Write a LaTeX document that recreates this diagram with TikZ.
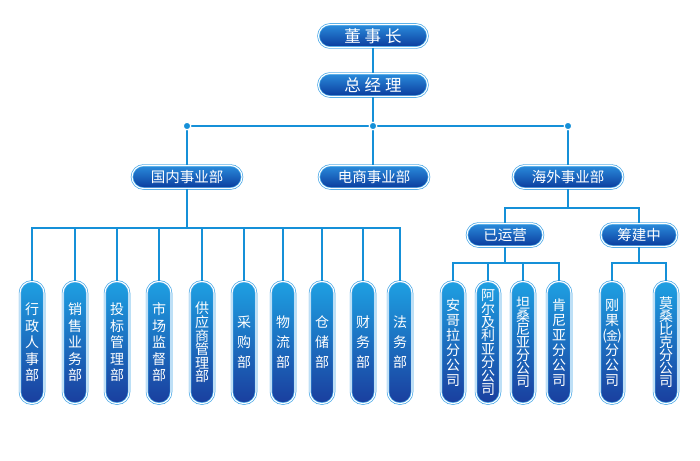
\documentclass[tikz,border=0pt]{standalone}
\usepackage{fontspec}
\newfontfamily\cjk{Noto Sans CJK SC}
\definecolor{linkblue}{HTML}{1590D8}
\definecolor{rimblue}{HTML}{45A6E6}
\definecolor{boxtop}{HTML}{2A8CDC}
\definecolor{boxbot}{HTML}{0A3A9C}
\definecolor{pilltop}{HTML}{1EA0E2}
\definecolor{pillbot}{HTML}{1A3E9E}
\begin{document}
\begin{tikzpicture}[x=1pt,y=-1pt,
    link/.style={draw=linkblue,line width=1.5pt},
    rim/.style={draw=rimblue,double=white,double distance=1.1pt,line width=0.7pt},
    headbox/.style={rim,rounded corners=11.5pt,top color=boxtop,bottom color=boxbot,
      minimum width=#1,minimum height=23pt,inner sep=0pt,text=white,
      font=\cjk\fontsize{14.5pt}{14.5pt}\selectfont},
    headbox/.default=110pt,
    pill/.style={rim,rounded corners=11.5pt,top color=pilltop,bottom color=pillbot,
      minimum width=24pt,minimum height=122pt,inner sep=0pt,text=white,align=center,
      font=\cjk\fontsize{14pt}{#1}\selectfont},
    pill/.default=16pt]
  \useasboundingbox (0,0) rectangle (700,460);
  \lineskiplimit=-50pt

  % top management
  \node[headbox=109pt,font=\cjk\fontsize{16.5pt}{16.5pt}\selectfont] (chair) at (373,36) {董\hspace{4pt}事\hspace{4pt}长};
  \node[headbox=109pt,font=\cjk\fontsize{16.5pt}{16.5pt}\selectfont] (gm) at (373,85) {总\hspace{4pt}经\hspace{4pt}理};
  \draw[link] (chair) -- (gm);

  % business divisions
  \node[headbox] (dom) at (187,177) {国内事业部};
  \node[headbox] (ecom) at (374,177) {电商事业部};
  \node[headbox] (over) at (568,177) {海外事业部};
  \coordinate (hubL) at (187,126);
  \coordinate (hubM) at (373,126);
  \coordinate (hubR) at (568,126);
  \draw[link] (gm) -- (hubM);
  \draw[link] (hubL) -- (hubR);
  \draw[link] (hubL) -- (dom);
  \draw[link] (hubM) -- (hubM |- ecom.north);
  \draw[link] (hubR) -- (over);
  \foreach \c in {hubL,hubM,hubR}
    \filldraw[fill=linkblue,draw=white,line width=1.2pt] (\c) circle (3.8pt);

  % domestic departments
  \coordinate (dombus) at (187,228);
  \draw[link] (dom) -- (dombus);
  \foreach \x/\name/\txt/\gap in {
      32/d1/行\\政\\人\\事\\部/16.5pt,
      75/d2/销\\售\\业\\务\\部/16.5pt,
      117/d3/投\\标\\管\\理\\部/16.5pt,
      159/d4/市\\场\\监\\督\\部/16.5pt,
      202/d5/供\\应\\商\\管\\理\\部/13.6pt,
      244/d6/采\\购\\部/20pt,
      283/d7/物\\流\\部/20pt,
      322/d8/仓\\储\\部/20pt,
      363/d9/财\\务\\部/20pt,
      400/d10/法\\务\\部/20pt}{
    \node[pill=\gap] (\name) at (\x,342.5) {\txt};
    \draw[link] (dombus) -| (\name.north);
  }

  % overseas branches
  \node[headbox=76pt] (run) at (505,235) {已运营};
  \node[headbox=76pt] (build) at (639,235) {筹建中};
  \coordinate (overbus) at (568,208);
  \draw[link] (over) -- (overbus);
  \draw[link] (overbus) -| (run);
  \draw[link] (overbus) -| (build);

  \coordinate (runbus) at (505,263);
  \draw[link] (run) -- (runbus);
  \foreach \x/\name/\txt/\gap in {
      453/a1/安\\哥\\拉\\分\\公\\司/15pt,
      488/a2/阿\\尔\\及\\利\\亚\\分\\公\\司/13.4pt,
      523/a3/坦\\桑\\尼\\亚\\分\\公\\司/13pt,
      559/a4/肯\\尼\\亚\\分\\公\\司/15pt}{
    \node[pill=\gap] (\name) at (\x,342.5) {\txt};
    \draw[link] (runbus) -| (\name.north);
  }

  \coordinate (buildbus) at (639,263);
  \draw[link] (build) -- (buildbus);
  \foreach \x/\name/\txt/\gap in {
      612/b1/刚\\果\\(\kern-1pt{\fontsize{12pt}{12pt}\selectfont 金}\kern-1pt)\\分\\公\\司/15pt,
      666/b2/莫\\桑\\比\\克\\分\\公\\司/13pt}{
    \node[pill=\gap] (\name) at (\x,342.5) {\txt};
    \draw[link] (buildbus) -| (\name.north);
  }
\end{tikzpicture}
\end{document}
